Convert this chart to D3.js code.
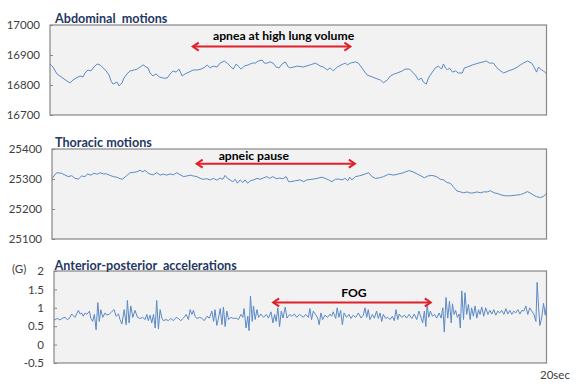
<!DOCTYPE html>
<html>
<head>
<meta charset="utf-8">
<script src="https://cdn.jsdelivr.net/npm/d3@7"></script>
<style>
  html, body { margin: 0; padding: 0; background: #ffffff; }
  svg { display: block; }
</style>
</head>
<body>
<svg id="chart" width="580" height="386"></svg>
<script>
// ---------------- DATA ----------------
const timeDomain = [0, 20];               // seconds
const xEndLabel = "20sec";
const unitLabel = "(G)";

const panelTitles = ["Abdominal  motions", "Thoracic motions", "Anterior-posterior  accelerations"];
const annotationTexts = ["apnea at high lung volume", "apneic pause", "FOG"];
// annotation arrow spans, in seconds
const annotationSpans = [[5.75, 12.1], [5.85, 12.25], [8.9, 15.3]];
// annotation vertical positions, in data units of each panel
const annotationLevels = [16928, 25351, 1.146];

const abdTicks = [16700, 16800, 16900, 17000];
const thoTicks = [25100, 25200, 25300, 25400];
const accTicks = [-0.5, 0, 0.5, 1, 1.5, 2];
const accTickLabels = ["-0.5", "0", "0.5", "1", "1.5", "2"];

// [time (s), value]
const abdominal = [
[0.00,16870],[0.12,16860],[0.28,16837],[0.40,16830],[0.52,16823],[0.69,16813],[0.81,16807],[0.93,16817],[1.05,16823],[1.21,16830],[1.33,16827],[1.41,16840],[1.53,16850],[1.65,16847],[1.77,16860],[1.90,16870],[2.02,16867],[2.14,16857],[2.26,16847],[2.38,16833],[2.46,16813],[2.54,16803],[2.70,16810],[2.78,16797],[2.90,16807],[2.98,16823],[3.10,16837],[3.23,16847],[3.39,16850],[3.51,16853],[3.63,16860],[3.75,16867],[3.87,16860],[3.95,16857],[4.03,16840],[4.15,16830],[4.27,16837],[4.40,16827],[4.56,16823],[4.72,16823],[4.84,16837],[4.96,16847],[5.08,16843],[5.20,16853],[5.32,16830],[5.44,16837],[5.60,16843],[5.77,16850],[5.93,16850],[6.09,16853],[6.25,16860],[6.33,16867],[6.45,16857],[6.57,16863],[6.73,16860],[6.85,16873],[7.02,16880],[7.14,16873],[7.26,16863],[7.38,16853],[7.50,16870],[7.58,16863],[7.70,16853],[7.82,16863],[7.98,16867],[8.15,16873],[8.27,16873],[8.39,16880],[8.55,16883],[8.63,16873],[8.75,16873],[8.87,16877],[8.99,16873],[9.11,16860],[9.23,16857],[9.35,16870],[9.48,16877],[9.60,16860],[9.68,16857],
[9.96,16863],[10.20,16860],[10.48,16867],[10.69,16873],[10.89,16863],[11.01,16860],[11.17,16850],[11.29,16857],[11.41,16847],[11.57,16860],[11.73,16867],[11.90,16873],[11.98,16867],[12.10,16873],[12.30,16877],[12.42,16873],[12.54,16860],[12.62,16850],[12.78,16833],[12.98,16827],[13.19,16820],[13.31,16817],[13.43,16807],[13.59,16817],[13.71,16830],[13.87,16837],[13.99,16840],[14.19,16847],[14.31,16853],[14.48,16853],[14.60,16843],[14.72,16833],[14.84,16817],[14.96,16823],[15.04,16810],[15.16,16803],[15.24,16823],[15.40,16843],[15.52,16857],[15.65,16863],[15.77,16853],[15.85,16870],[15.93,16857],[16.01,16850],[16.09,16857],[16.21,16843],[16.33,16847],[16.45,16840],[16.61,16840],[16.69,16857],[16.81,16860],[17.02,16867],[17.14,16870],[17.26,16873],[17.46,16877],[17.58,16880],[17.70,16873],[17.86,16873],[17.98,16860],[18.10,16850],[18.27,16840],[18.47,16847],[18.67,16853],[18.83,16860],[18.95,16867],[19.07,16873],[19.23,16880],[19.40,16873],[19.48,16863],[19.60,16843],[19.68,16860],[19.80,16850],[19.88,16847],[20.00,16837]
];

const thoracic = [
[0.00,25302],[0.19,25321],[0.39,25319],[0.53,25313],[0.66,25308],[0.80,25311],[0.93,25302],[1.07,25300],[1.20,25310],[1.34,25308],[1.43,25317],[1.57,25313],[1.70,25319],[1.84,25316],[1.94,25321],[2.08,25317],[2.21,25317],[2.35,25312],[2.48,25308],[2.62,25306],[2.75,25301],[2.86,25300],[3.00,25310],[3.16,25321],[3.29,25322],[3.43,25324],[3.56,25329],[3.67,25324],[3.77,25329],[3.86,25321],[3.97,25316],[4.10,25314],[4.24,25321],[4.37,25313],[4.51,25316],[4.64,25313],[4.78,25317],[4.91,25314],[5.05,25321],[5.18,25314],[5.32,25308],[5.45,25310],[5.59,25313],[5.72,25310],[5.86,25308],[5.99,25302],[6.13,25299],[6.26,25301],[6.40,25297],[6.53,25302],[6.67,25296],[6.80,25303],[6.91,25299],[7.00,25312],[7.10,25302],[7.20,25297],[7.31,25291],[7.41,25299],[7.50,25286],[7.61,25297],[7.72,25288],[7.81,25297],[7.91,25286],[8.02,25294],[8.15,25297],[8.29,25302],[8.42,25299],[8.56,25304],[8.69,25308],[8.80,25302],[8.93,25308],[9.07,25301],[9.20,25303],[9.34,25301],[9.47,25308],[9.57,25291],
[9.64,25291],[9.84,25294],[10.04,25297],[10.18,25291],[10.31,25297],[10.51,25299],[10.72,25302],[10.92,25306],[11.05,25302],[11.19,25297],[11.32,25291],[11.46,25299],[11.59,25300],[11.73,25297],[11.86,25302],[11.96,25294],[12.04,25306],[12.13,25297],[12.27,25308],[12.40,25310],[12.54,25313],[12.67,25317],[12.81,25321],[12.94,25308],[13.08,25302],[13.25,25304],[13.41,25308],[13.62,25316],[13.82,25313],[14.02,25317],[14.22,25321],[14.43,25328],[14.60,25324],[14.76,25317],[14.93,25310],[15.06,25304],[15.20,25310],[15.37,25312],[15.55,25308],[15.71,25299],[15.84,25297],[15.98,25288],[16.11,25286],[16.25,25272],[16.38,25260],[16.52,25257],[16.65,25254],[16.79,25257],[16.92,25253],[17.06,25254],[17.19,25257],[17.33,25254],[17.46,25257],[17.60,25257],[17.73,25261],[17.87,25254],[18.00,25252],[18.16,25247],[18.34,25244],[18.54,25244],[18.75,25246],[18.95,25248],[19.08,25252],[19.22,25258],[19.33,25254],[19.46,25247],[19.60,25241],[19.76,25238],[19.89,25243],[20.00,25252]
];

const acceleration = [
[0.00,0.66],[0.04,0.68],[0.14,0.71],[0.24,0.67],[0.35,0.72],[0.45,0.74],[0.54,0.68],[0.62,0.71],[0.72,0.83],[0.85,0.74],[0.99,0.93],[1.06,0.83],[1.12,0.86],[1.19,0.77],[1.26,0.86],[1.33,0.82],[1.44,0.91],[1.49,0.72],[1.57,0.63],[1.64,0.82],[1.71,0.40],[1.78,1.14],[1.84,0.63],[1.90,0.95],[1.98,0.74],[2.07,0.86],[2.14,0.80],[2.25,0.83],[2.34,0.89],[2.44,0.95],[2.52,0.77],[2.62,0.83],[2.68,0.68],[2.76,0.56],[2.85,0.95],[2.93,0.54],[2.98,1.20],[3.05,0.59],[3.12,1.05],[3.20,0.74],[3.29,0.93],[3.39,0.74],[3.50,0.71],[3.60,0.74],[3.70,0.68],[3.77,0.82],[3.83,0.65],[3.90,0.80],[3.97,0.59],[4.04,0.82],[4.11,0.45],[4.17,1.20],[4.24,0.43],[4.31,0.95],[4.38,0.72],[4.44,0.65],[4.55,0.68],[4.65,0.65],[4.74,0.71],[4.85,0.65],[4.96,0.74],[5.05,0.71],[5.15,0.65],[5.26,0.72],[5.37,0.82],[5.46,0.68],[5.53,0.95],[5.60,0.82],[5.66,0.93],[5.73,0.77],[5.80,0.71],[5.91,0.74],[6.00,0.72],[6.10,0.65],[6.21,0.77],[6.31,0.72],[6.41,0.91],[6.48,0.63],[6.54,0.95],[6.61,0.52],[6.68,0.72],[6.75,0.98],[6.82,0.54],[6.88,1.02],[6.95,0.49],[7.02,0.91],[7.09,0.68],[7.18,0.74],[7.29,0.71],[7.40,0.72],[7.49,0.68],[7.59,0.82],[7.67,0.74],[7.72,0.98],[7.80,0.45],[7.87,0.77],[7.92,0.38],[7.98,1.32],[8.05,0.63],[8.10,1.05],[8.17,0.68],[8.24,0.95],[8.31,0.74],[8.40,0.83],[8.51,0.74],[8.62,0.82],[8.71,0.72],[8.81,0.89],[8.89,0.59],[8.96,0.82],[9.02,0.63],[9.09,1.00],[9.16,0.49],[9.23,0.91],[9.30,0.72],[9.39,1.02],[9.46,0.72],[9.57,0.82],[9.66,0.77],[9.76,0.83],[9.86,0.74],[9.97,0.82],[10.07,0.77],
[10.12,0.74],[10.22,0.82],[10.33,0.74],[10.39,0.98],[10.46,0.68],[10.53,0.91],[10.62,0.82],[10.71,0.72],[10.77,0.54],[10.84,0.86],[10.91,0.68],[11.00,0.80],[11.11,0.74],[11.21,0.83],[11.27,0.77],[11.34,0.89],[11.44,0.71],[11.50,1.00],[11.57,0.74],[11.64,0.93],[11.71,0.54],[11.78,0.86],[11.88,0.74],[11.98,0.82],[12.06,0.71],[12.15,0.80],[12.25,0.74],[12.36,0.86],[12.47,0.72],[12.56,0.80],[12.63,1.00],[12.70,0.74],[12.76,0.95],[12.83,0.68],[12.93,0.82],[13.01,0.72],[13.10,0.91],[13.17,0.71],[13.24,0.86],[13.31,0.63],[13.37,0.82],[13.47,0.71],[13.55,0.74],[13.65,0.68],[13.74,0.77],[13.82,0.65],[13.89,0.95],[13.96,0.68],[14.02,0.83],[14.12,0.74],[14.23,0.80],[14.32,0.72],[14.42,0.82],[14.53,0.71],[14.63,0.83],[14.73,0.68],[14.82,0.91],[14.91,0.72],[14.97,0.59],[15.04,0.91],[15.10,0.49],[15.15,1.09],[15.22,0.74],[15.28,0.91],[15.37,0.77],[15.45,0.82],[15.54,0.72],[15.64,0.86],[15.72,0.72],[15.79,1.00],[15.85,0.34],[15.92,1.28],[15.99,0.72],[16.06,1.18],[16.13,0.59],[16.18,1.11],[16.25,0.82],[16.31,0.93],[16.38,0.74],[16.45,0.83],[16.50,0.45],[16.56,1.46],[16.63,0.68],[16.69,1.41],[16.76,0.82],[16.83,1.09],[16.90,0.68],[16.96,1.00],[17.03,0.77],[17.10,1.05],[17.17,0.72],[17.24,0.95],[17.30,0.82],[17.37,1.02],[17.45,0.77],[17.53,1.00],[17.62,0.82],[17.70,0.93],[17.78,0.83],[17.86,0.95],[17.94,0.80],[18.02,0.91],[18.10,0.86],[18.18,0.93],[18.27,0.82],[18.35,0.98],[18.43,0.83],[18.51,0.93],[18.59,0.82],[18.67,0.91],[18.75,0.86],[18.84,0.95],[18.92,0.83],[19.00,0.93],[19.08,0.91],[19.16,1.05],[19.24,0.82],[19.32,1.00],[19.40,0.91],[19.49,0.82],[19.57,0.63],[19.62,1.69],[19.68,1.00],[19.73,0.52],[19.81,0.75],[19.88,1.12],[19.95,0.80],[20.00,1.05]
];

// ---------------- DRAWING ----------------
const svg = d3.select("#chart");
svg.append("rect").attr("width", 580).attr("height", 386).attr("fill", "#ffffff");

const FONT = "Lato, 'Open Sans', 'Liberation Sans', sans-serif";
const lineColor = "#5a8ac6";
const arrowColor = "#e2202b";

const panels = [
  { left: 50, right: 546.5, top: 25, bottom: 115, domain: [16700, 17000], ticks: abdTicks, labels: abdTicks.map(String), data: abdominal, title: panelTitles[0], titleX: 55, titleY: 23, textGap: 6.5 },
  { left: 52, right: 546.5, top: 149, bottom: 239, domain: [25100, 25400], ticks: thoTicks, labels: thoTicks.map(String), data: thoracic, title: panelTitles[1], titleX: 55, titleY: 147, textGap: 3.8 },
  { left: 54, right: 546.5, top: 271, bottom: 363, domain: [-0.5, 2], ticks: accTicks, labels: accTickLabels, data: acceleration, title: panelTitles[2], titleX: 54.5, titleY: 269.5, textGap: 5 }
];

panels.forEach((p, i) => {
  const x = d3.scaleLinear().domain(timeDomain).range([p.left, p.right]);
  const y = d3.scaleLinear().domain(p.domain).range([p.bottom, p.top]);
  const g = svg.append("g");

  g.append("rect")
    .attr("x", p.left).attr("y", p.top)
    .attr("width", p.right - p.left).attr("height", p.bottom - p.top)
    .attr("fill", "#f2f2f2").attr("stroke", "#868686").attr("stroke-width", 1.2);

  const axis = d3.axisLeft(y).tickValues(p.ticks)
    .tickFormat((d, k) => p.labels[k])
    .tickSizeInner(-3).tickSizeOuter(0).tickPadding(10);
  const ag = g.append("g").attr("transform", `translate(${p.left},0)`).call(axis);
  ag.select(".domain").remove();
  ag.selectAll(".tick line").attr("stroke", "#868686");
  ag.selectAll(".tick text")
    .attr("fill", "#404040").style("font-family", FONT).style("font-size", "11.5px");

  const line = d3.line().x(d => x(d[0])).y(d => y(d[1]));
  g.append("path").datum(p.data)
    .attr("d", line).attr("fill", "none")
    .attr("stroke", lineColor).attr("stroke-width", 1).attr("stroke-linejoin", "round");

  g.append("text")
    .attr("x", p.titleX).attr("y", p.titleY)
    .attr("fill", "#1f3864").style("font-family", FONT).style("font-weight", "bold").style("font-size", "12.6px")
    .style("white-space", "pre").attr("xml:space", "preserve")
    .text(p.title);

  // annotation arrow
  const [t0, t1] = annotationSpans[i];
  const ay = y(annotationLevels[i]);
  const ax0 = x(t0), ax1 = x(t1);
  g.append("line").attr("x1", ax0 + 1).attr("x2", ax1 - 1).attr("y1", ay).attr("y2", ay)
    .attr("stroke", arrowColor).attr("stroke-width", 2);
  const head = 6;
  g.append("path")
    .attr("d", `M${ax0 + head},${ay - 4} L${ax0},${ay} L${ax0 + head},${ay + 4}`)
    .attr("fill", "none").attr("stroke", arrowColor).attr("stroke-width", 2);
  g.append("path")
    .attr("d", `M${ax1 - head},${ay - 4} L${ax1},${ay} L${ax1 - head},${ay + 4}`)
    .attr("fill", "none").attr("stroke", arrowColor).attr("stroke-width", 2);

  // annotation text
  const textX = i === 2 ? (ax0 + ax1) / 2 + 2 : (ax0 + ax1) / 2 + 12;
  g.append("text")
    .attr("x", i === 1 ? ax0 + 22 : textX)
    .attr("y", ay - p.textGap)
    .attr("text-anchor", i === 1 ? "start" : "middle")
    .attr("fill", "#000000").style("font-family", FONT).style("font-weight", "bold").style("font-size", "12.2px")
    .text(annotationTexts[i]);

  if (i === 2) {
    g.append("text").attr("x", 12).attr("y", 273)
      .attr("fill", "#404040").style("font-family", FONT).style("font-size", "11.5px")
      .text(unitLabel);
    g.append("text").attr("x", 540).attr("y", 379)
      .attr("fill", "#404040").style("font-family", FONT).style("font-size", "11.5px")
      .text(xEndLabel);
  }
});
</script>
</body>
</html>
